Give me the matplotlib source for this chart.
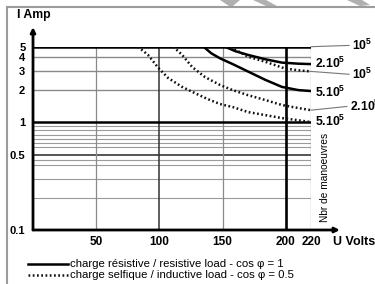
"""Courbes de durée de vie électrique (I Amp / U Volts) – recréation matplotlib."""

import matplotlib.pyplot as plt
from matplotlib.lines import Line2D
from matplotlib.patches import Polygon
from matplotlib.ticker import NullLocator

plt.rcParams["font.family"] = ["Liberation Sans", "DejaVu Sans"]
plt.rcParams["mathtext.fontset"] = "custom"
plt.rcParams["mathtext.rm"] = "Liberation Sans"
plt.rcParams["mathtext.bf"] = "Liberation Sans:bold"

# ----------------------------------------------------------------------
#  Data
# ----------------------------------------------------------------------
x_ticks = [50, 100, 150, 200, 220]
y_ticks = [0.1, 0.5, 1, 2, 3, 4, 5]
y_tick_labels = ["0.1", "0.5", "1", "2", "3", "4", "5"]
minor_levels = [0.2, 0.3, 0.4, 0.45, 0.59, 0.64, 0.7, 0.76, 0.85, 0.92]

# charge résistive (cos phi = 1)
res_2e5_v = [152, 160, 170, 184, 197, 210, 220]
res_2e5_i = [5.0, 4.55, 4.2, 3.82, 3.56, 3.48, 3.45]
res_5e5_v = [135, 141, 148, 158, 170, 184, 197, 210, 220]
res_5e5_i = [5.0, 4.35, 3.9, 3.45, 2.95, 2.46, 2.12, 1.98, 1.94]

# charge selfique (cos phi = 0.5)
ind_1e5_v = [153, 158, 170, 184, 199, 210, 220]
ind_1e5_i = [5.0, 4.84, 4.05, 3.62, 3.15, 3.02, 2.95]
ind_2e5_v = [111, 118, 126, 136, 148, 158, 170, 184, 197, 210, 220]
ind_2e5_i = [5.0, 4.2, 3.24, 2.62, 2.21, 1.98, 1.78, 1.60, 1.44, 1.35, 1.29]
ind_5e5_v = [83, 91, 99, 107, 118, 128, 138, 148, 158, 170, 184, 197, 210, 220]
ind_5e5_i = [5.0, 4.2, 3.2, 2.56, 2.12, 1.86, 1.64, 1.47, 1.38, 1.24, 1.16,
             1.09, 1.04, 1.0]

legend_labels = [
    "charge résistive / resistive load - cos φ = 1",
    "charge selfique / inductive load - cos φ = 0.5",
]

# ----------------------------------------------------------------------
#  Figure
# ----------------------------------------------------------------------
fig = plt.figure(figsize=(3.75, 2.84), dpi=100)
ax = fig.add_axes([33 / 375, 1 - 230 / 284, 278 / 375, 183.3 / 284])
ax.set_yscale("log")
ax.set_xlim(0, 220)
ax.set_ylim(0.1, 5)
for sp in ax.spines.values():
    sp.set_visible(False)

# --- grid ---
for lvl in minor_levels:
    ax.axhline(lvl, color="#9a9a9a", lw=0.8, zorder=1)
for lvl in (2, 3, 4):
    ax.axhline(lvl, color="#8a8a8a", lw=1.0, zorder=1)
ax.axhline(0.5, color="#555555", lw=1.4, zorder=1)
ax.axhline(1, color="black", lw=1.8, zorder=2)
ax.axhline(5, color="black", lw=1.8, zorder=2)

for v in (50, 150, 220):
    ax.axvline(v, color="#8a8a8a", lw=0.9, zorder=1)
ax.axvline(100, color="#333333", lw=1.1, zorder=1)
ax.axvline(200, color="black", lw=1.9, zorder=2)

# --- curves ---
dots = (0, (0.7, 1.0))
solid_kw = dict(color="black", lw=1.8, solid_capstyle="butt", zorder=3)
dot_kw = dict(color="#111111", lw=1.8, linestyle=dots, zorder=3)

ax.plot(res_2e5_v, res_2e5_i, **solid_kw)
ax.plot(res_5e5_v, res_5e5_i, **solid_kw)
ax.plot(ind_1e5_v, ind_1e5_i, **dot_kw)
ax.plot(ind_2e5_v, ind_2e5_i, **dot_kw)
ax.plot(ind_5e5_v, ind_5e5_i, **dot_kw)

# --- axes with arrows ---
arrow_kw = dict(arrowstyle="-|>", lw=2.0, color="black", mutation_scale=7,
                shrinkA=0, shrinkB=0)
ax.annotate("", xy=(0, 1.107), xytext=(0, 0), xycoords="axes fraction",
            arrowprops=arrow_kw, zorder=4)
ax.annotate("", xy=(1.104, 0), xytext=(0, 0), xycoords="axes fraction",
            arrowprops=arrow_kw, zorder=4)

# --- ticks ---
ax.set_xticks(x_ticks)
ax.set_yticks(y_ticks, labels=y_tick_labels)
ax.yaxis.set_minor_locator(NullLocator())
ax.tick_params(length=0)
ax.tick_params(axis="x", pad=4.5, labelsize=8.5)
ax.tick_params(axis="y", pad=5.5, labelsize=8)
for lab in ax.get_xticklabels() + ax.get_yticklabels():
    lab.set_fontweight("bold")

fig.text(17 / 375, 1 - 15 / 284, "I Amp", fontsize=8.8, fontweight="bold",
         ha="left", va="center")
fig.text(333 / 375, 1 - 242 / 284, "U Volts", fontsize=9,
         fontweight="bold", ha="left", va="center")

# --- number of operations at the curve ends ---
lead_kw = dict(arrowstyle="-", color="#777777", lw=0.8, shrinkA=0, shrinkB=0,
               relpos=(0, 0.5))
ends = [
    (5.0, r"$\mathbf{10^5}$", (29.5, 1.0), True),
    (res_2e5_i[-1], r"$\mathbf{2.10^5}$", (3.0, 0.8), False),
    (ind_1e5_i[-1], r"$\mathbf{10^5}$", (29.5, -2.2), True),
    (res_5e5_i[-1], r"$\mathbf{5.10^5}$", (3.0, -0.7), False),
    (ind_2e5_i[-1], r"$\mathbf{2.10^5}$", (28.0, 2.9), True),
    (ind_5e5_i[-1], r"$\mathbf{5.10^5}$", (3.0, 0.7), False),
]
for i_end, txt, off, leader in ends:
    ax.annotate(txt, xy=(220, i_end), xytext=off, textcoords="offset points",
                fontsize=8.8, ha="left", va="center", annotation_clip=False,
                arrowprops=lead_kw if leader else None)

ax.text(1.05, 0.285, "Nbr de manoeuvres", transform=ax.transAxes,
        rotation=90, fontsize=7.3, ha="center", va="center")

# --- legend (drawn by hand, under the chart) ---
fig.add_artist(Line2D([28 / 375, 68 / 375], [1 - 264 / 284] * 2,
                      color="black", lw=1.8))
fig.add_artist(Line2D([28 / 375, 68 / 375], [1 - 275 / 284] * 2,
                      color="#111111", lw=1.8, linestyle=dots))
for k, lab in enumerate(legend_labels):
    fig.text(70 / 375, 1 - (264 + 11 * k) / 284, lab, fontsize=8.2,
             ha="left", va="center")

# --- page frame / scan remnants ---
fig.add_artist(Line2D([7 / 375, 7 / 375], [0, 1 - 6.5 / 284],
                      color="#9c9c9c", lw=1.5))
fig.add_artist(Line2D([7 / 375, 1], [1 - 6.5 / 284] * 2,
                      color="#9c9c9c", lw=1.5))
for pts in (
    [(220, 0), (240, 0), (233, 6), (229, 6)],
    [(253, 0), (266, 0), (277, 6), (266, 6)],
    [(347, 0), (362, 0), (370, 5), (360, 6)],
):
    fig.add_artist(Polygon([(x / 375, 1 - y / 284) for x, y in pts],
                           closed=True, color="#b0b0b0", lw=0,
                           transform=fig.transFigure))

fig.savefig("out.png", dpi=100)
